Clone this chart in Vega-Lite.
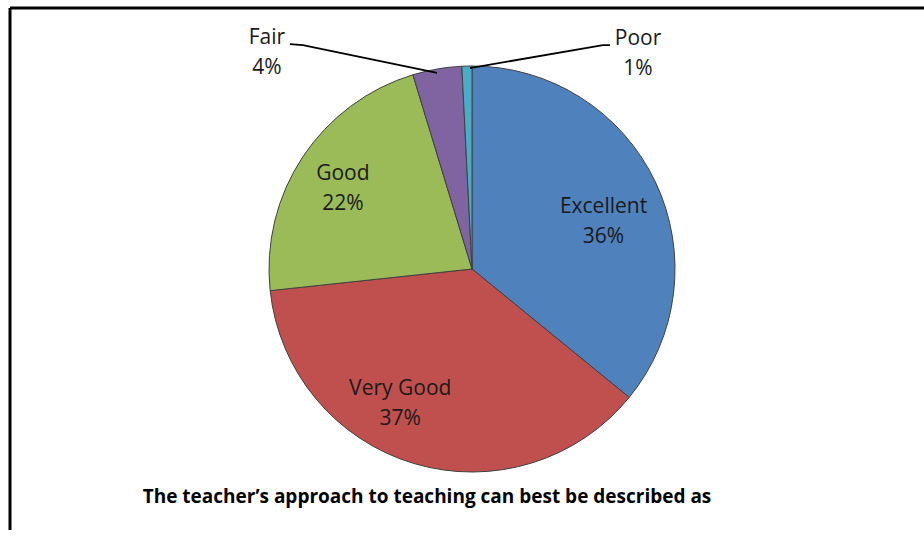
{
  "$schema": "https://vega.github.io/schema/vega-lite/v6.json",
  "width": 924,
  "height": 522,
  "autosize": {"type": "none"},
  "padding": {"left": 10, "top": 8, "right": 0, "bottom": 0},
  "background": "white",
  "config": {
    "view": {"stroke": "black", "strokeWidth": 3, "strokeDash": [1446, 924, 522, 0]},
    "font": "Open Sans",
    "text": {"fontSize": 21, "lineHeight": 30, "lineBreak": "\n", "color": "#1a1a1a", "align": "center", "baseline": "middle"}
  },
  "title": {
    "text": "The teacher’s approach to teaching can best be described as",
    "orient": "bottom",
    "anchor": "middle",
    "dx": -45,
    "dy": -46,
    "fontSize": 19,
    "fontWeight": "bold",
    "color": "black",
    "font": "Open Sans"
  },
  "datasets": {
    "slices": [
      {"cat": "Excellent", "value": 35.9, "idx": 1},
      {"cat": "Very Good", "value": 37.4, "idx": 2},
      {"cat": "Good", "value": 22.0, "idx": 3},
      {"cat": "Fair", "value": 3.9, "idx": 4},
      {"cat": "Poor", "value": 0.8, "idx": 5}
    ],
    "leaders": [
      {"cat": "Fair", "k": 1, "u": -0.897, "v": 1.108},
      {"cat": "Fair", "k": 2, "u": -0.833, "v": 1.103},
      {"cat": "Fair", "k": 3, "u": -0.172, "v": 0.966},
      {"cat": "Poor", "k": 1, "u": -0.010, "v": 0.990},
      {"cat": "Poor", "k": 2, "u": 0.645, "v": 1.103},
      {"cat": "Poor", "k": 3, "u": 0.680, "v": 1.103}
    ],
    "outer": [
      {"label": "Fair\n4%", "u": -1.010, "v": 1.138},
      {"label": "Poor\n1%", "u": 0.818, "v": 1.133}
    ]
  },
  "layer": [
    {
      "data": {"name": "slices"},
      "mark": {"type": "arc", "outerRadius": 203, "stroke": "#404040", "strokeWidth": 1},
      "encoding": {
        "theta": {"field": "value", "type": "quantitative", "stack": true},
        "order": {"field": "idx", "type": "quantitative"},
        "color": {
          "field": "cat",
          "type": "nominal",
          "scale": {
            "domain": ["Excellent", "Very Good", "Good", "Fair", "Poor"],
            "range": ["#4F81BD", "#C0504D", "#9BBB59", "#8064A2", "#4BACC6"]
          },
          "legend": null
        }
      }
    },
    {
      "data": {"name": "slices"},
      "transform": [
        {"calculate": "datum.cat == 'Excellent' ? datum.cat + '\\n' + format(datum.value / 100, '.0%') : ''", "as": "txt"}
      ],
      "mark": {"type": "text", "radius": 150, "dx": -4, "dy": 2},
      "encoding": {
        "theta": {"field": "value", "type": "quantitative", "stack": true},
        "order": {"field": "idx", "type": "quantitative"},
        "text": {"field": "txt"}
      }
    },
    {
      "data": {"name": "slices"},
      "transform": [
        {"calculate": "datum.cat == 'Very Good' ? datum.cat + '\\n' + format(datum.value / 100, '.0%') : ''", "as": "txt"}
      ],
      "mark": {"type": "text", "radius": 150, "dx": -29, "dy": -24},
      "encoding": {
        "theta": {"field": "value", "type": "quantitative", "stack": true},
        "order": {"field": "idx", "type": "quantitative"},
        "text": {"field": "txt"}
      }
    },
    {
      "data": {"name": "slices"},
      "transform": [
        {"calculate": "datum.cat == 'Good' ? datum.cat + '\\n' + format(datum.value / 100, '.0%') : ''", "as": "txt"}
      ],
      "mark": {"type": "text", "radius": 150, "dx": -4, "dy": -12},
      "encoding": {
        "theta": {"field": "value", "type": "quantitative", "stack": true},
        "order": {"field": "idx", "type": "quantitative"},
        "text": {"field": "txt"}
      }
    },
    {
      "data": {"name": "leaders"},
      "mark": {"type": "line", "color": "black", "strokeWidth": 1.8},
      "encoding": {
        "x": {"field": "u", "type": "quantitative", "scale": {"domain": [-2.2759, 2.2759]}, "axis": null},
        "y": {"field": "v", "type": "quantitative", "scale": {"domain": [-1.2857, 1.2857]}, "axis": null},
        "detail": {"field": "cat"},
        "order": {"field": "k", "type": "quantitative"}
      }
    },
    {
      "data": {"name": "outer"},
      "mark": {"type": "text"},
      "encoding": {
        "x": {"field": "u", "type": "quantitative", "scale": {"domain": [-2.2759, 2.2759]}, "axis": null},
        "y": {"field": "v", "type": "quantitative", "scale": {"domain": [-1.2857, 1.2857]}, "axis": null},
        "text": {"field": "label"}
      }
    }
  ]
}
